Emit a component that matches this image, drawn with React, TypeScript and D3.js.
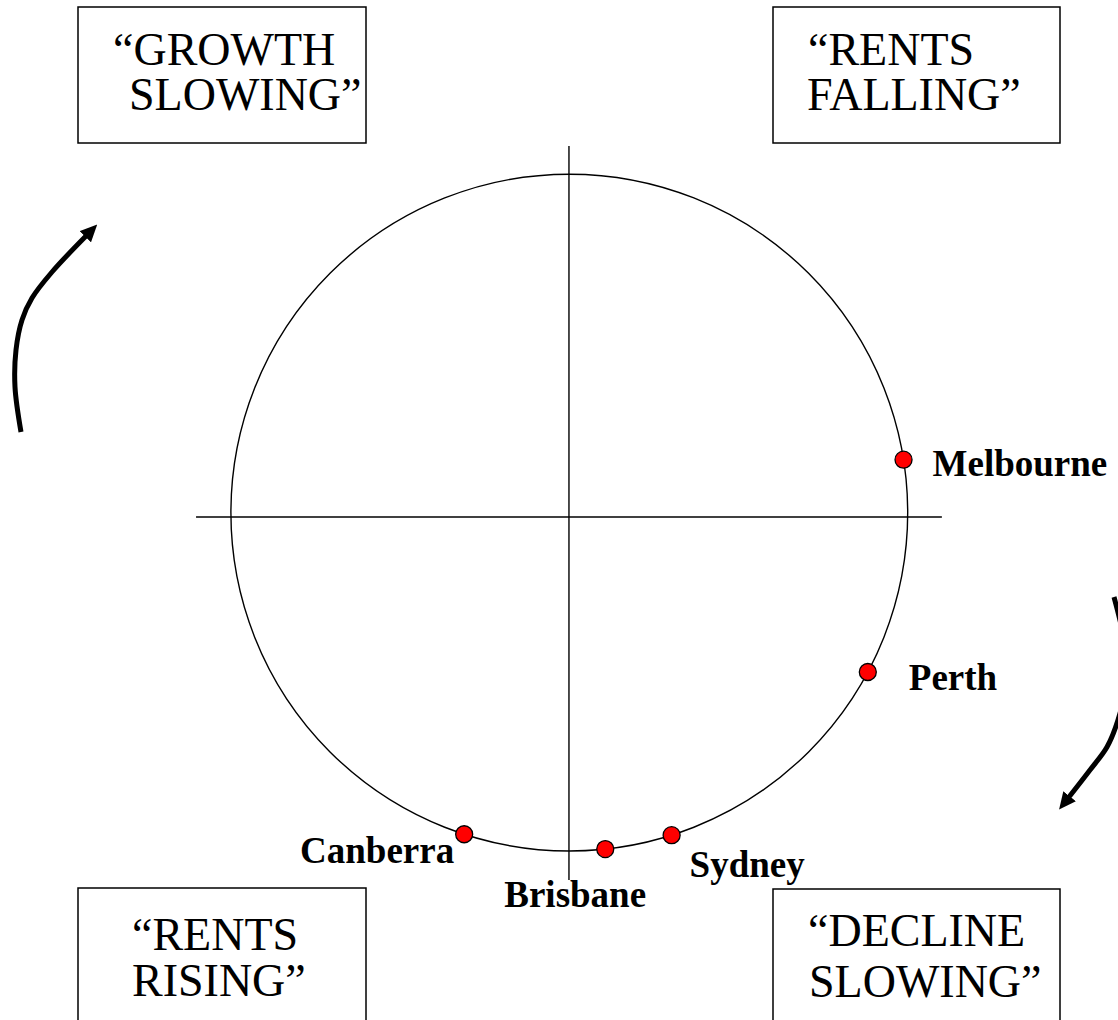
import React from "react";
import * as d3 from "d3";

// ---- data ----
const cities = ["Melbourne", "Perth", "Sydney", "Brisbane", "Canberra"];
// position on the cycle clock, degrees counter-clockwise from "3 o'clock"
const cityAngles = [9.0, -28.1, -72.4, -83.9, -108.1];

const quadrantLabels = [
  ["\u201CGROWTH", "SLOWING\u201D"],
  ["\u201CRENTS", "FALLING\u201D"],
  ["\u201CRENTS", "RISING\u201D"],
  ["\u201CDECLINE", "SLOWING\u201D"],
];

// ---- layout (not data) ----
const W = 1118;
const H = 1020;
const CX = 569.3;
const CY = 512.6;
const R = 338.4;

const labelOffsets: Record<string, { dx: number; dy: number; anchor: string }> = {
  Melbourne: { dx: 29, dy: 16, anchor: "start" },
  Perth: { dx: 41, dy: 18, anchor: "start" },
  Sydney: { dx: 18, dy: 42, anchor: "start" },
  Brisbane: { dx: -101, dy: 58, anchor: "start" },
  Canberra: { dx: -10, dy: 29, anchor: "end" },
};

const boxes = [
  { x: 78, y: 7, w: 288, h: 136, lines: [{ x: 113, y: 65 }, { x: 129, y: 110 }] },
  { x: 773, y: 7, w: 287, h: 136, lines: [{ x: 808, y: 65 }, { x: 807, y: 110 }] },
  { x: 78, y: 888, w: 288, h: 150, lines: [{ x: 132, y: 950 }, { x: 132, y: 996 }] },
  { x: 773, y: 889, w: 287, h: 150, lines: [{ x: 808, y: 946 }, { x: 809, y: 997 }] },
];

const leftArrow: [number, number][] = [
  [21, 432], [15, 387], [16, 350], [22, 320], [32, 298], [52, 272], [86, 236],
];
const rightArrow: [number, number][] = [
  [1114, 597], [1124, 640], [1127, 680], [1118, 720], [1107, 747], [1090, 770], [1069, 797],
];

export default function App() {
  const x = d3.scaleLinear().domain([-1, 1]).range([CX - R, CX + R]);
  const y = d3.scaleLinear().domain([-1, 1]).range([CY + R, CY - R]);

  const circlePath = d3.arc()({
    innerRadius: 0,
    outerRadius: R,
    startAngle: 0,
    endAngle: 2 * Math.PI,
  } as any) as string;

  const arrowLine = d3
    .line<[number, number]>()
    .x((d) => d[0])
    .y((d) => d[1])
    .curve(d3.curveCatmullRom.alpha(0.5));

  const pts = cities.map((c, i) => {
    const a = (cityAngles[i] * Math.PI) / 180;
    return { name: c, px: x(Math.cos(a)), py: y(Math.sin(a)) };
  });

  return (
    <svg
      width={W}
      height={H}
      style={{ position: "absolute", left: 0, top: 0, background: "#fff" }}
    >
      <defs>
        <marker
          id="ah"
          viewBox="0 -8 17 16"
          markerWidth={17}
          markerHeight={16}
          markerUnits="userSpaceOnUse"
          refX={1}
          refY={0}
          orient="auto"
        >
          <path d="M0,-8L17,0L0,8Z" fill="#000" />
        </marker>
      </defs>

      {/* quadrant boxes */}
      {boxes.map((b, i) => (
        <g key={i}>
          <rect x={b.x} y={b.y} width={b.w} height={b.h} fill="#fff" stroke="#000" strokeWidth={1.5} />
          <text
            fontFamily="'Liberation Serif', 'Times New Roman', serif"
            fontSize={46}
            fill="#000"
          >
            {quadrantLabels[i].map((t, j) => (
              <tspan key={j} x={b.lines[j].x} y={b.lines[j].y}>
                {t}
              </tspan>
            ))}
          </text>
        </g>
      ))}

      {/* circle */}
      <path d={circlePath} transform={`translate(${CX},${CY})`} fill="none" stroke="#000" strokeWidth={1.4} />

      {/* crosshair */}
      <line x1={x(-1.103)} x2={x(1.101)} y1={y(-0.013)} y2={y(-0.013)} stroke="#000" strokeWidth={1.4} />
      <line x1={x(-0.001)} x2={x(-0.001)} y1={y(1.083)} y2={y(-1.086)} stroke="#000" strokeWidth={1.4} />

      {/* arrows */}
      <path d={arrowLine(leftArrow) as string} fill="none" stroke="#000" strokeWidth={5} markerEnd="url(#ah)" />
      <path d={arrowLine(rightArrow) as string} fill="none" stroke="#000" strokeWidth={5} markerEnd="url(#ah)" />

      {/* cities */}
      {pts.map((p) => {
        const o = labelOffsets[p.name];
        return (
          <g key={p.name}>
            <circle cx={p.px} cy={p.py} r={8.5} fill="#ff0000" stroke="#000" strokeWidth={1.3} />
            <text
              x={p.px + o.dx}
              y={p.py + o.dy}
              textAnchor={o.anchor as any}
              fontFamily="'Liberation Serif', 'Times New Roman', serif"
              fontWeight="bold"
              fontSize={37}
              fill="#000"
            >
              {p.name}
            </text>
          </g>
        );
      })}
    </svg>
  );
}
